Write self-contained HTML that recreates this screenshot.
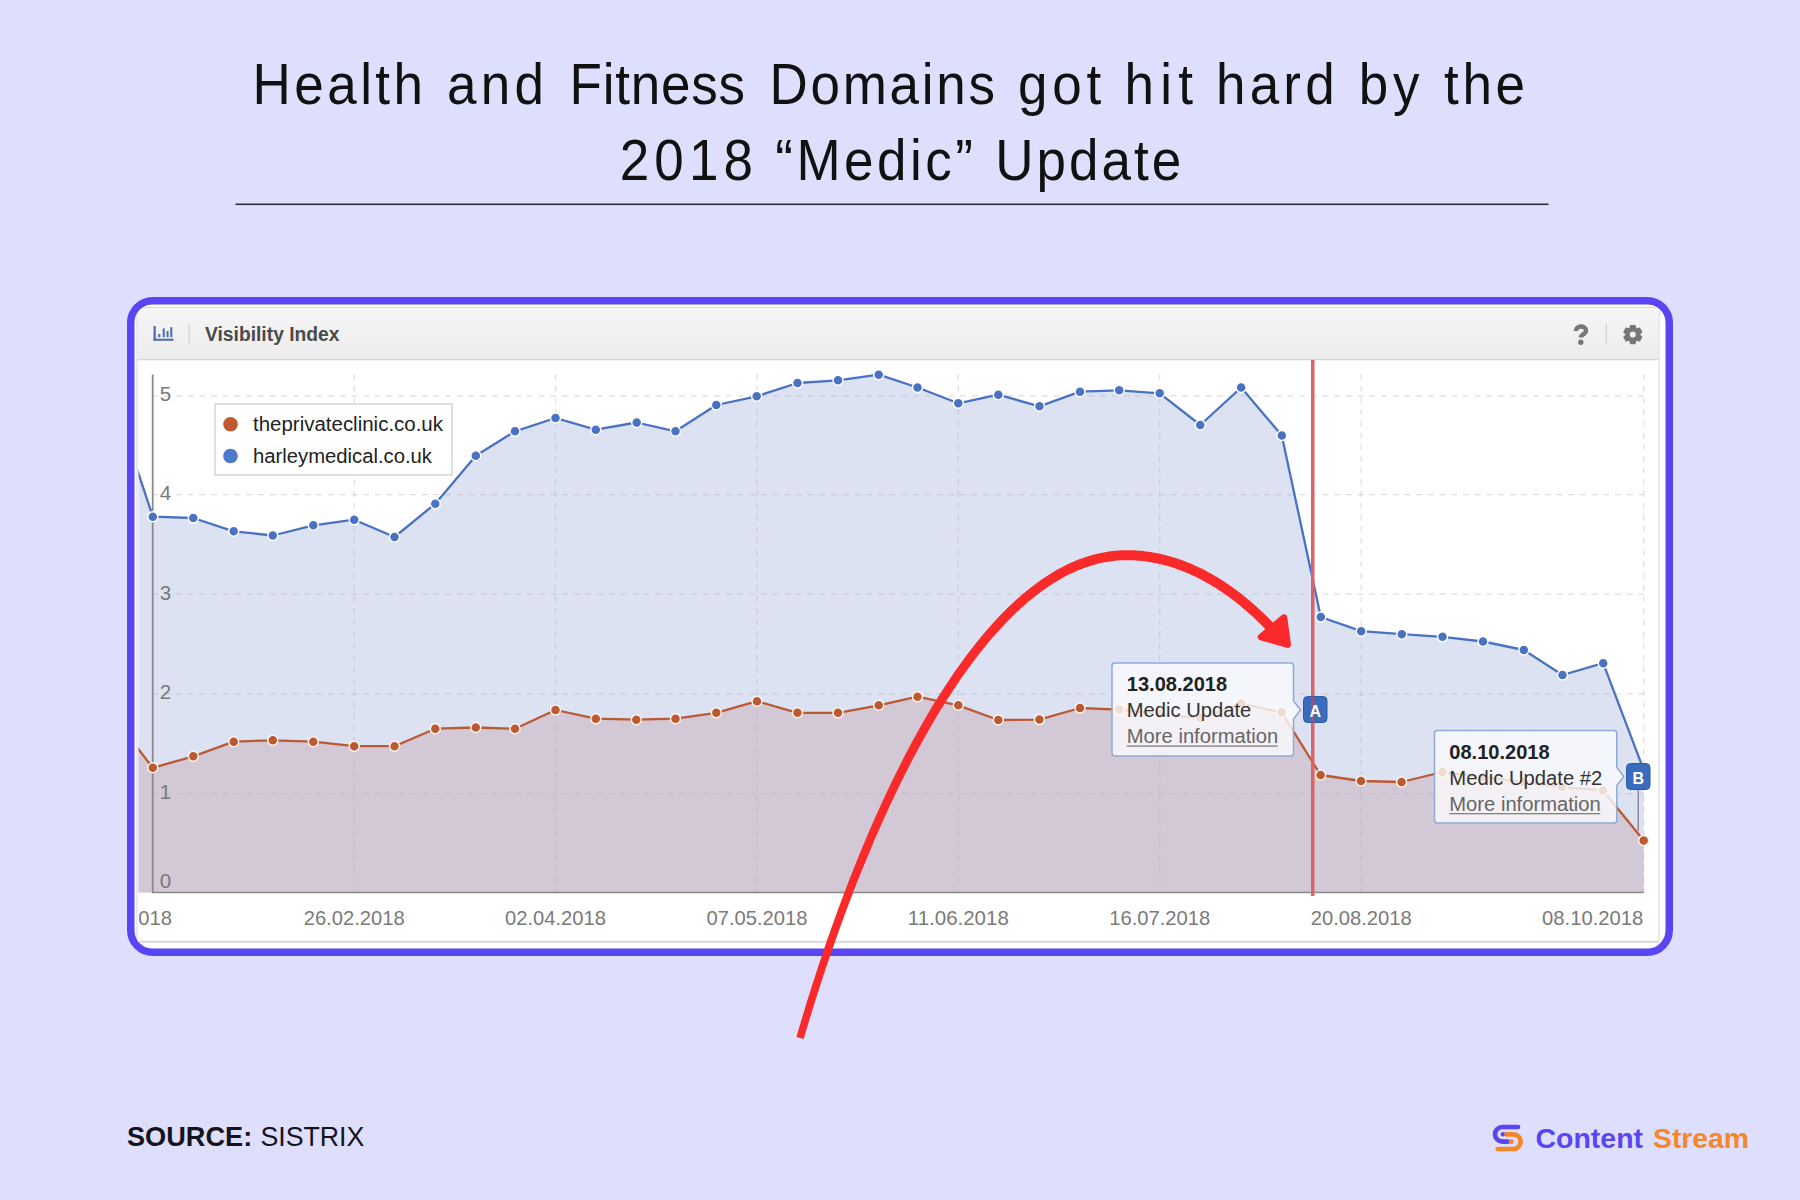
<!DOCTYPE html>
<html><head><meta charset="utf-8">
<style>
html,body{margin:0;padding:0;}
body{width:1800px;height:1200px;background:#dedffd;overflow:hidden;position:relative;font-family:"Liberation Sans",sans-serif;}
svg{position:absolute;left:0;top:0;}
</style></head><body>
<svg width="1800" height="1200" viewBox="0 0 1800 1200" font-family="Liberation Sans, sans-serif">
<defs>
<clipPath id="card"><rect x="134.5" y="304.5" width="1531" height="644.5" rx="18.5" ry="18.5"/></clipPath>
<clipPath id="plot"><rect x="138.5" y="360" width="1510" height="540"/></clipPath>
<linearGradient id="hdr" x1="0" y1="0" x2="0" y2="1"><stop offset="0" stop-color="#f6f6f6"/><stop offset="1" stop-color="#ececec"/></linearGradient>
</defs>
<g fill="#111" font-size="53">
<g transform="translate(0,104.4) scale(1,1.09)">
<text x="252.6" y="0" textLength="170.4" lengthAdjust="spacing">Health</text>
<text x="447.0" y="0" textLength="97.0" lengthAdjust="spacing">and</text>
<text x="569.5" y="0" textLength="175.5" lengthAdjust="spacing">Fitness</text>
<text x="769.5" y="0" textLength="225.5" lengthAdjust="spacing">Domains</text>
<text x="1018.0" y="0" textLength="83.3" lengthAdjust="spacing">got</text>
<text x="1124.5" y="0" textLength="68.5" lengthAdjust="spacing">hit</text>
<text x="1216.0" y="0" textLength="118.7" lengthAdjust="spacing">hard</text>
<text x="1358.7" y="0" textLength="60.7" lengthAdjust="spacing">by</text>
<text x="1444.0" y="0" textLength="81.0" lengthAdjust="spacing">the</text>
</g>
<g transform="translate(0,180) scale(1,1.09)">
<text x="619.7" y="0" textLength="133.3" lengthAdjust="spacing">2018</text>
<text x="775.3" y="0" textLength="197.7" lengthAdjust="spacing">“Medic”</text>
<text x="995.3" y="0" textLength="186.0" lengthAdjust="spacing">Update</text>
</g>
</g>
<rect x="235.5" y="203.5" width="1313" height="1.6" fill="#2a2a3a"/>
<rect x="130.75" y="300.75" width="1538.5" height="651.5" rx="22" ry="22" fill="#ffffff" stroke="#5a45f5" stroke-width="7.5"/>
<g clip-path="url(#card)">
<rect x="137" y="307.5" width="1522" height="635" fill="#ffffff" stroke="#dcdcdc" stroke-width="1.2"/>
<rect x="137.6" y="308" width="1520.8" height="51.5" fill="url(#hdr)"/>
<rect x="137.6" y="359" width="1520.8" height="1.3" fill="#d6d6d6"/>
<rect x="137.6" y="940.5" width="1520.8" height="2.5" fill="#dedede"/>
</g>
<g fill="#5070b2">
<rect x="153.5" y="326" width="2.3" height="14.8"/><rect x="153.5" y="338.7" width="20" height="2.1"/>
<rect x="158.2" y="334" width="2.1" height="3.2"/><rect x="162.7" y="328.5" width="2.1" height="8.7"/><rect x="166.5" y="331" width="2.1" height="6.2"/><rect x="170.2" y="327.2" width="2.1" height="10"/>
</g>
<rect x="188.5" y="324" width="1.2" height="21" fill="#d2d2d2"/>
<text x="205" y="341.2" font-size="19.5" font-weight="bold" fill="#4a4a4a" textLength="134.5" lengthAdjust="spacingAndGlyphs">Visibility Index</text>
<path d="M1575.9,331.0 C1575.7,325.2 1586.0,325.0 1586.0,330.7 C1586.0,334.2 1580.7,334.4 1580.7,337.6" fill="none" stroke="#777" stroke-width="4.4" stroke-linecap="butt"/><circle cx="1580.8" cy="342.2" r="2.7" fill="#777"/>
<rect x="1605.8" y="323" width="1.2" height="21" fill="#d2d2d2"/>
<path d="M1630.59,325.57 L1635.01,325.57 L1635.82,328.51 L1636.57,328.94 L1639.52,328.17 L1641.73,332.00 L1639.59,334.17 L1639.59,335.03 L1641.73,337.20 L1639.52,341.03 L1636.57,340.26 L1635.82,340.69 L1635.01,343.63 L1630.59,343.63 L1629.78,340.69 L1629.03,340.26 L1626.08,341.03 L1623.87,337.20 L1626.01,335.03 L1626.01,334.17 L1623.87,332.00 L1626.08,328.17 L1629.03,328.94 L1629.78,328.51Z M1636.3999999999999,334.6 A3.6,3.6 0 1,0 1629.2,334.6 A3.6,3.6 0 1,0 1636.3999999999999,334.6Z" fill="#777" stroke="#777" stroke-width="1.2" stroke-linejoin="round" fill-rule="evenodd"/>
<g clip-path="url(#plot)">
<path d="M112.5,395.0 L152.8,516.7 L193.3,518.0 L233.7,531.3 L272.8,535.5 L313.3,525.3 L354.2,519.7 L394.5,537.0 L435.3,503.7 L475.8,455.8 L515.0,431.3 L555.5,418.0 L595.8,429.7 L636.7,422.5 L675.5,431.3 L716.3,405.0 L756.7,396.3 L797.5,383.0 L838.0,380.3 L878.7,374.7 L917.5,387.5 L958.3,403.3 L998.3,394.7 L1039.5,406.3 L1080.0,391.7 L1119.2,390.3 L1159.7,393.3 L1200.3,425.0 L1241.2,387.5 L1281.8,435.5 L1320.8,617.0 L1361.2,631.2 L1401.8,634.2 L1442.5,636.8 L1483.0,641.5 L1523.8,650.0 L1562.5,675.0 L1603.2,663.2 L1643.7,770.0 L1643.7,892.5 L112.5,892.5 Z" fill="#dce2f2"/>
<path d="M112.5,715.4 L152.8,767.8 L193.3,756.3 L233.7,741.7 L272.8,740.3 L313.3,741.7 L354.2,746.2 L394.5,746.2 L435.3,728.7 L475.8,727.5 L515.0,728.7 L555.5,710.0 L595.8,718.7 L636.3,719.7 L675.5,718.7 L716.3,712.8 L757.0,701.2 L797.5,712.8 L838.0,712.8 L878.7,705.3 L917.5,696.7 L958.3,705.3 L998.3,720.0 L1039.4,719.6 L1080.0,708.0 L1119.4,709.6 L1159.7,713.8 L1200.3,718.2 L1241.2,703.6 L1281.6,712.4 L1320.6,775.0 L1361.0,781.0 L1401.6,782.0 L1442.4,772.0 L1483.0,777.0 L1523.8,782.0 L1562.0,787.0 L1603.0,790.4 L1643.7,840.4 L1643.7,892.5 L112.5,892.5 Z" fill="#d3c8d5"/>
<line x1="152.5" y1="395.8" x2="1643.7" y2="395.8" stroke="#a8a8b6" stroke-opacity="0.38" stroke-width="1.2" stroke-dasharray="6 5.7"/>
<line x1="152.5" y1="494.7" x2="1643.7" y2="494.7" stroke="#a8a8b6" stroke-opacity="0.38" stroke-width="1.2" stroke-dasharray="6 5.7"/>
<line x1="152.5" y1="594.2" x2="1643.7" y2="594.2" stroke="#a8a8b6" stroke-opacity="0.38" stroke-width="1.2" stroke-dasharray="6 5.7"/>
<line x1="152.5" y1="693.8" x2="1643.7" y2="693.8" stroke="#a8a8b6" stroke-opacity="0.38" stroke-width="1.2" stroke-dasharray="6 5.7"/>
<line x1="152.5" y1="793.6" x2="1643.7" y2="793.6" stroke="#a8a8b6" stroke-opacity="0.38" stroke-width="1.2" stroke-dasharray="6 5.7"/>
<line x1="354.2" y1="374" x2="354.2" y2="892.5" stroke="#a8a8b6" stroke-opacity="0.38" stroke-width="1.2" stroke-dasharray="6 5.7"/>
<line x1="555.5" y1="374" x2="555.5" y2="892.5" stroke="#a8a8b6" stroke-opacity="0.38" stroke-width="1.2" stroke-dasharray="6 5.7"/>
<line x1="757" y1="374" x2="757" y2="892.5" stroke="#a8a8b6" stroke-opacity="0.38" stroke-width="1.2" stroke-dasharray="6 5.7"/>
<line x1="958.3" y1="374" x2="958.3" y2="892.5" stroke="#a8a8b6" stroke-opacity="0.38" stroke-width="1.2" stroke-dasharray="6 5.7"/>
<line x1="1159.7" y1="374" x2="1159.7" y2="892.5" stroke="#a8a8b6" stroke-opacity="0.38" stroke-width="1.2" stroke-dasharray="6 5.7"/>
<line x1="1361.2" y1="374" x2="1361.2" y2="892.5" stroke="#a8a8b6" stroke-opacity="0.38" stroke-width="1.2" stroke-dasharray="6 5.7"/>
<line x1="1643.7" y1="374" x2="1643.7" y2="892.5" stroke="#a8a8b6" stroke-opacity="0.38" stroke-width="1.2" stroke-dasharray="6 5.7"/>
<line x1="152.7" y1="374.5" x2="152.7" y2="892.5" stroke="#8a8a8a" stroke-width="1.8"/>
<line x1="152" y1="892.5" x2="1643.7" y2="892.5" stroke="#8a8a8a" stroke-width="1.5"/>
<path d="M112.5,395.0 L152.8,516.7 L193.3,518.0 L233.7,531.3 L272.8,535.5 L313.3,525.3 L354.2,519.7 L394.5,537.0 L435.3,503.7 L475.8,455.8 L515.0,431.3 L555.5,418.0 L595.8,429.7 L636.7,422.5 L675.5,431.3 L716.3,405.0 L756.7,396.3 L797.5,383.0 L838.0,380.3 L878.7,374.7 L917.5,387.5 L958.3,403.3 L998.3,394.7 L1039.5,406.3 L1080.0,391.7 L1119.2,390.3 L1159.7,393.3 L1200.3,425.0 L1241.2,387.5 L1281.8,435.5 L1320.8,617.0 L1361.2,631.2 L1401.8,634.2 L1442.5,636.8 L1483.0,641.5 L1523.8,650.0 L1562.5,675.0 L1603.2,663.2 L1643.7,770.0" fill="none" stroke="#4a72c4" stroke-width="2.3" stroke-linejoin="round"/>
<path d="M112.5,715.4 L152.8,767.8 L193.3,756.3 L233.7,741.7 L272.8,740.3 L313.3,741.7 L354.2,746.2 L394.5,746.2 L435.3,728.7 L475.8,727.5 L515.0,728.7 L555.5,710.0 L595.8,718.7 L636.3,719.7 L675.5,718.7 L716.3,712.8 L757.0,701.2 L797.5,712.8 L838.0,712.8 L878.7,705.3 L917.5,696.7 L958.3,705.3 L998.3,720.0 L1039.4,719.6 L1080.0,708.0 L1119.4,709.6 L1159.7,713.8 L1200.3,718.2 L1241.2,703.6 L1281.6,712.4 L1320.6,775.0 L1361.0,781.0 L1401.6,782.0 L1442.4,772.0 L1483.0,777.0 L1523.8,782.0 L1562.0,787.0 L1603.0,790.4 L1643.7,840.4" fill="none" stroke="#bb5a32" stroke-width="2.3" stroke-linejoin="round"/>
<g fill="#4a72c4" stroke="#ffffff" stroke-width="1.5"><circle cx="152.8" cy="516.7" r="5"/><circle cx="193.3" cy="518.0" r="5"/><circle cx="233.7" cy="531.3" r="5"/><circle cx="272.8" cy="535.5" r="5"/><circle cx="313.3" cy="525.3" r="5"/><circle cx="354.2" cy="519.7" r="5"/><circle cx="394.5" cy="537.0" r="5"/><circle cx="435.3" cy="503.7" r="5"/><circle cx="475.8" cy="455.8" r="5"/><circle cx="515.0" cy="431.3" r="5"/><circle cx="555.5" cy="418.0" r="5"/><circle cx="595.8" cy="429.7" r="5"/><circle cx="636.7" cy="422.5" r="5"/><circle cx="675.5" cy="431.3" r="5"/><circle cx="716.3" cy="405.0" r="5"/><circle cx="756.7" cy="396.3" r="5"/><circle cx="797.5" cy="383.0" r="5"/><circle cx="838.0" cy="380.3" r="5"/><circle cx="878.7" cy="374.7" r="5"/><circle cx="917.5" cy="387.5" r="5"/><circle cx="958.3" cy="403.3" r="5"/><circle cx="998.3" cy="394.7" r="5"/><circle cx="1039.5" cy="406.3" r="5"/><circle cx="1080.0" cy="391.7" r="5"/><circle cx="1119.2" cy="390.3" r="5"/><circle cx="1159.7" cy="393.3" r="5"/><circle cx="1200.3" cy="425.0" r="5"/><circle cx="1241.2" cy="387.5" r="5"/><circle cx="1281.8" cy="435.5" r="5"/><circle cx="1320.8" cy="617.0" r="5"/><circle cx="1361.2" cy="631.2" r="5"/><circle cx="1401.8" cy="634.2" r="5"/><circle cx="1442.5" cy="636.8" r="5"/><circle cx="1483.0" cy="641.5" r="5"/><circle cx="1523.8" cy="650.0" r="5"/><circle cx="1562.5" cy="675.0" r="5"/><circle cx="1603.2" cy="663.2" r="5"/><circle cx="1643.7" cy="770.0" r="5"/></g>
<g fill="#bb5a32" stroke="#fff6ec" stroke-width="1.5"><circle cx="152.8" cy="767.8" r="5"/><circle cx="193.3" cy="756.3" r="5"/><circle cx="233.7" cy="741.7" r="5"/><circle cx="272.8" cy="740.3" r="5"/><circle cx="313.3" cy="741.7" r="5"/><circle cx="354.2" cy="746.2" r="5"/><circle cx="394.5" cy="746.2" r="5"/><circle cx="435.3" cy="728.7" r="5"/><circle cx="475.8" cy="727.5" r="5"/><circle cx="515.0" cy="728.7" r="5"/><circle cx="555.5" cy="710.0" r="5"/><circle cx="595.8" cy="718.7" r="5"/><circle cx="636.3" cy="719.7" r="5"/><circle cx="675.5" cy="718.7" r="5"/><circle cx="716.3" cy="712.8" r="5"/><circle cx="757.0" cy="701.2" r="5"/><circle cx="797.5" cy="712.8" r="5"/><circle cx="838.0" cy="712.8" r="5"/><circle cx="878.7" cy="705.3" r="5"/><circle cx="917.5" cy="696.7" r="5"/><circle cx="958.3" cy="705.3" r="5"/><circle cx="998.3" cy="720.0" r="5"/><circle cx="1039.4" cy="719.6" r="5"/><circle cx="1080.0" cy="708.0" r="5"/><circle cx="1119.4" cy="709.6" r="5"/><circle cx="1159.7" cy="713.8" r="5"/><circle cx="1200.3" cy="718.2" r="5"/><circle cx="1241.2" cy="703.6" r="5"/><circle cx="1281.6" cy="712.4" r="5"/><circle cx="1320.6" cy="775.0" r="5"/><circle cx="1361.0" cy="781.0" r="5"/><circle cx="1401.6" cy="782.0" r="5"/><circle cx="1442.4" cy="772.0" r="5"/><circle cx="1483.0" cy="777.0" r="5"/><circle cx="1523.8" cy="782.0" r="5"/><circle cx="1562.0" cy="787.0" r="5"/><circle cx="1603.0" cy="790.4" r="5"/><circle cx="1643.7" cy="840.4" r="5"/></g>
</g>
<text x="159.8" y="401.2" font-size="20.5" fill="#7a7a7a">5</text>
<text x="159.8" y="500.09999999999997" font-size="20.5" fill="#7a7a7a">4</text>
<text x="159.8" y="599.6" font-size="20.5" fill="#7a7a7a">3</text>
<text x="159.8" y="699.1999999999999" font-size="20.5" fill="#7a7a7a">2</text>
<text x="159.8" y="799.0" font-size="20.5" fill="#7a7a7a">1</text>
<text x="159.8" y="887.6" font-size="20.5" fill="#7a7a7a">0</text>
<g font-size="21" fill="#7a7a7a">
<svg x="138.5" y="890" width="200" height="50" overflow="hidden"><text x="-67.5" y="34.8" textLength="101" lengthAdjust="spacingAndGlyphs">22.01.2018</text></svg>
<text x="303.7" y="924.8" textLength="101" lengthAdjust="spacingAndGlyphs">26.02.2018</text>
<text x="505.0" y="924.8" textLength="101" lengthAdjust="spacingAndGlyphs">02.04.2018</text>
<text x="706.5" y="924.8" textLength="101" lengthAdjust="spacingAndGlyphs">07.05.2018</text>
<text x="907.8" y="924.8" textLength="101" lengthAdjust="spacingAndGlyphs">11.06.2018</text>
<text x="1109.2" y="924.8" textLength="101" lengthAdjust="spacingAndGlyphs">16.07.2018</text>
<text x="1310.7" y="924.8" textLength="101" lengthAdjust="spacingAndGlyphs">20.08.2018</text>
<text x="1542" y="924.8" textLength="101.3" lengthAdjust="spacingAndGlyphs">08.10.2018</text>
</g>
<rect x="215" y="404" width="237" height="71" fill="#ffffff" fill-opacity="0.9" stroke="#cccccc" stroke-width="1.2"/>
<circle cx="230.5" cy="424.3" r="7.3" fill="#c0582f"/>
<circle cx="230.5" cy="456" r="7.3" fill="#4f78cc"/>
<text x="253" y="431" font-size="19.5" fill="#222" textLength="190" lengthAdjust="spacingAndGlyphs">theprivateclinic.co.uk</text>
<text x="253" y="463" font-size="19.5" fill="#222" textLength="179" lengthAdjust="spacingAndGlyphs">harleymedical.co.uk</text>
<rect x="1311" y="360" width="3.5" height="536" fill="#d9646a"/>
<rect x="1637.5" y="789" width="1.5" height="42" fill="#8a8a9a"/>
<path d="M1115,663 L1290.5,663 Q1293.5,663 1293.5,666 L1293.5,701 L1300.5,710 L1293.5,719 L1293.5,753 Q1293.5,756 1290.5,756 L1115,756 Q1112,756 1112,753 L1112,666 Q1112,663 1115,663 Z" fill="#fbfbfd" fill-opacity="0.8" stroke="#8eaad6" stroke-width="1.5"/>
<text x="1126.8" y="691" font-size="19.5" font-weight="bold" fill="#222" textLength="100.3" lengthAdjust="spacingAndGlyphs">13.08.2018</text>
<text x="1126.8" y="717" font-size="19.5" fill="#333" textLength="124.5" lengthAdjust="spacingAndGlyphs">Medic Update</text>
<text x="1126.8" y="743.3" font-size="19.5" fill="#666" textLength="151.5" lengthAdjust="spacingAndGlyphs">More information</text>
<rect x="1126.8" y="745.5" width="151" height="1.2" fill="#777"/>
<path d="M1437.5,730.6 L1613.8,730.6 Q1616.8,730.6 1616.8,733.6 L1616.8,767.5 L1623.8,776.5 L1616.8,785.5 L1616.8,820 Q1616.8,823 1613.8,823 L1437.5,823 Q1434.5,823 1434.5,820 L1434.5,733.6 Q1434.5,730.6 1437.5,730.6 Z" fill="#fbfbfd" fill-opacity="0.8" stroke="#8eaad6" stroke-width="1.5"/>
<text x="1449.3" y="758.6" font-size="19.5" font-weight="bold" fill="#222" textLength="100.3" lengthAdjust="spacingAndGlyphs">08.10.2018</text>
<text x="1449.3" y="784.6" font-size="19.5" fill="#333" textLength="153" lengthAdjust="spacingAndGlyphs">Medic Update #2</text>
<text x="1449.3" y="810.9" font-size="19.5" fill="#666" textLength="151.5" lengthAdjust="spacingAndGlyphs">More information</text>
<rect x="1449.3" y="813.1" width="151" height="1.2" fill="#777"/>
<rect x="1303.5" y="696.5" width="23.5" height="26" rx="4" fill="#3a6cbd" stroke="#2d5aa5" stroke-width="1"/>
<rect x="1311" y="696.5" width="3.5" height="26" fill="#b8476a" fill-opacity="0.75"/>
<text x="1315.2" y="716.5" font-size="16" font-weight="bold" fill="#fff" text-anchor="middle">A</text>
<rect x="1626.5" y="763.5" width="23.5" height="26" rx="4" fill="#3a6cbd" stroke="#2d5aa5" stroke-width="1"/>
<text x="1638.3" y="783.5" font-size="16" font-weight="bold" fill="#fff" text-anchor="middle">B</text>
<path d="M803.60,1039.06 L806.23,1030.20 L808.90,1021.35 L811.61,1012.49 L814.38,1003.64 L817.18,994.78 L820.03,985.93 L822.92,977.10 L825.85,968.27 L828.83,959.46 L831.85,950.66 L834.91,941.89 L838.01,933.14 L841.16,924.42 L844.34,915.73 L847.57,907.07 L850.83,898.45 L854.14,889.87 L857.48,881.33 L860.87,872.83 L864.29,864.39 L867.76,855.99 L871.26,847.65 L874.80,839.37 L878.37,831.14 L881.99,822.98 L885.64,814.89 L889.33,806.87 L893.06,798.92 L896.82,791.04 L900.61,783.25 L904.45,775.53 L908.32,767.90 L912.22,760.36 L916.15,752.91 L920.13,745.55 L924.13,738.29 L928.17,731.13 L932.24,724.07 L936.34,717.12 L940.48,710.28 L944.64,703.55 L948.84,696.94 L953.07,690.44 L957.33,684.06 L961.62,677.81 L965.94,671.69 L970.29,665.70 L974.67,659.84 L979.07,654.12 L983.51,648.53 L987.97,643.09 L992.46,637.80 L996.97,632.65 L1001.51,627.66 L1006.08,622.82 L1010.67,618.14 L1015.28,613.61 L1019.92,609.26 L1024.57,605.07 L1029.26,601.04 L1033.96,597.19 L1038.68,593.52 L1043.43,590.02 L1048.19,586.71 L1052.97,583.57 L1057.77,580.63 L1062.59,577.87 L1067.42,575.30 L1072.28,572.92 L1077.14,570.74 L1082.03,568.76 L1086.93,566.98 L1091.84,565.40 L1096.77,564.03 L1101.72,562.86 L1106.68,561.90 L1111.66,561.15 L1116.65,560.62 L1121.67,560.30 L1126.76,560.20 L1128.96,560.22 L1131.21,560.27 L1133.45,560.36 L1135.68,560.48 L1137.90,560.64 L1140.10,560.83 L1142.30,561.05 L1144.49,561.30 L1146.67,561.59 L1148.83,561.91 L1150.99,562.25 L1153.14,562.63 L1155.27,563.04 L1157.39,563.48 L1159.51,563.95 L1161.61,564.45 L1163.70,564.97 L1165.78,565.52 L1167.85,566.10 L1169.91,566.71 L1171.96,567.34 L1174.00,568.00 L1176.02,568.69 L1178.04,569.40 L1180.04,570.13 L1182.03,570.89 L1184.01,571.67 L1185.98,572.48 L1187.94,573.31 L1189.88,574.16 L1191.82,575.03 L1193.74,575.92 L1195.65,576.83 L1197.55,577.77 L1199.43,578.72 L1201.31,579.70 L1203.17,580.69 L1205.02,581.70 L1206.85,582.73 L1208.68,583.77 L1210.49,584.84 L1212.29,585.92 L1214.07,587.01 L1215.85,588.12 L1217.61,589.25 L1219.35,590.39 L1221.09,591.55 L1222.81,592.72 L1224.51,593.90 L1226.21,595.09 L1227.89,596.30 L1229.55,597.52 L1231.21,598.75 L1232.85,599.99 L1234.47,601.24 L1236.08,602.50 L1237.68,603.77 L1239.26,605.05 L1240.83,606.34 L1242.38,607.63 L1243.92,608.93 L1245.45,610.24 L1246.96,611.56 L1248.46,612.88 L1249.94,614.20 L1251.40,615.53 L1252.86,616.87 L1254.29,618.21 L1255.71,619.55 L1257.12,620.89 L1258.51,622.24 L1259.89,623.59 L1261.25,624.94 L1262.59,626.29 L1263.92,627.64 L1265.23,629.00 L1266.53,630.35 L1267.81,631.70 L1269.08,633.05 L1270.34,634.40 L1277.66,627.60 L1276.39,626.22 L1275.08,624.83 L1273.76,623.44 L1272.43,622.05 L1271.07,620.66 L1269.70,619.26 L1268.31,617.87 L1266.91,616.47 L1265.49,615.08 L1264.05,613.69 L1262.60,612.30 L1261.13,610.91 L1259.65,609.53 L1258.15,608.15 L1256.63,606.77 L1255.10,605.40 L1253.55,604.04 L1251.99,602.67 L1250.41,601.32 L1248.81,599.97 L1247.20,598.63 L1245.57,597.29 L1243.93,595.97 L1242.27,594.65 L1240.60,593.34 L1238.91,592.04 L1237.21,590.75 L1235.49,589.47 L1233.76,588.20 L1232.01,586.95 L1230.24,585.70 L1228.46,584.47 L1226.67,583.25 L1224.86,582.05 L1223.04,580.85 L1221.20,579.68 L1219.34,578.52 L1217.48,577.37 L1215.59,576.24 L1213.70,575.13 L1211.79,574.03 L1209.86,572.95 L1207.92,571.89 L1205.96,570.85 L1204.00,569.82 L1202.01,568.82 L1200.02,567.84 L1198.01,566.88 L1195.98,565.94 L1193.94,565.02 L1191.89,564.12 L1189.82,563.24 L1187.74,562.39 L1185.65,561.57 L1183.54,560.77 L1181.42,559.99 L1179.29,559.24 L1177.14,558.51 L1174.98,557.81 L1172.80,557.14 L1170.62,556.49 L1168.42,555.88 L1166.20,555.29 L1163.98,554.73 L1161.74,554.20 L1159.49,553.70 L1157.22,553.24 L1154.95,552.80 L1152.66,552.39 L1150.36,552.02 L1148.04,551.68 L1145.72,551.38 L1143.38,551.11 L1141.03,550.87 L1138.67,550.67 L1136.30,550.50 L1133.92,550.37 L1131.52,550.28 L1129.12,550.22 L1126.64,550.20 L1121.23,550.33 L1115.79,550.70 L1110.37,551.30 L1104.98,552.13 L1099.62,553.19 L1094.29,554.47 L1088.99,555.97 L1083.72,557.69 L1078.49,559.62 L1073.29,561.75 L1068.12,564.09 L1062.98,566.63 L1057.88,569.37 L1052.81,572.30 L1047.77,575.42 L1042.77,578.73 L1037.81,582.22 L1032.87,585.88 L1027.97,589.73 L1023.11,593.74 L1018.27,597.93 L1013.47,602.28 L1008.71,606.80 L1003.98,611.47 L999.28,616.31 L994.61,621.30 L989.98,626.43 L985.38,631.72 L980.81,637.15 L976.28,642.73 L971.78,648.44 L967.32,654.29 L962.89,660.27 L958.49,666.38 L954.12,672.62 L949.80,678.98 L945.50,685.47 L941.24,692.07 L937.01,698.79 L932.82,705.62 L928.67,712.56 L924.55,719.61 L920.46,726.76 L916.41,734.01 L912.40,741.36 L908.42,748.80 L904.48,756.33 L900.57,763.96 L896.70,771.67 L892.87,779.46 L889.08,787.33 L885.32,795.28 L881.60,803.30 L877.92,811.39 L874.28,819.56 L870.67,827.78 L867.11,836.07 L863.58,844.42 L860.09,852.82 L856.64,861.28 L853.24,869.78 L849.87,878.34 L846.54,886.93 L843.25,895.57 L840.01,904.25 L836.80,912.96 L833.64,921.71 L830.52,930.48 L827.43,939.28 L824.40,948.10 L821.40,956.94 L818.45,965.80 L815.54,974.68 L812.67,983.56 L809.85,992.46 L807.07,1001.36 L804.34,1010.26 L801.65,1019.16 L799.00,1028.06 L796.40,1036.94Z" fill="#fa2a2a"/>
<path d="M1284,617.5 L1261,637 L1287.8,644.6 Z" fill="#fa2a2a" stroke="#fa2a2a" stroke-width="6.5" stroke-linejoin="round"/>
<text x="127" y="1145.8" font-size="28" font-weight="bold" fill="#14141e" textLength="125.2" lengthAdjust="spacingAndGlyphs">SOURCE:</text>
<text x="260.4" y="1145.8" font-size="28" fill="#14141e" textLength="104" lengthAdjust="spacingAndGlyphs">SISTRIX</text>
<path d="M1518,1127 L1502.3,1127 A7.3,7.3 0 0 0 1502.3,1141.6 L1508,1141.6" fill="none" stroke="#5a45f5" stroke-width="4.7" stroke-linecap="round"/>
<circle cx="1503" cy="1134.3" r="2.3" fill="#5a45f5"/>
<path d="M1506.5,1134.3 L1513.3,1134.3 A7.35,7.35 0 0 1 1513.3,1149 L1497.7,1149" fill="none" stroke="#f5862a" stroke-width="4.7" stroke-linecap="round"/>
<circle cx="1511.3" cy="1141.7" r="2.4" fill="#f5862a"/>
<text x="1535.5" y="1148.4" font-size="28" font-weight="bold" fill="#5a45f5" textLength="107.5" lengthAdjust="spacingAndGlyphs">Content</text>
<text x="1653" y="1148.4" font-size="28" font-weight="bold" fill="#f5862a" textLength="96" lengthAdjust="spacingAndGlyphs">Stream</text>
</svg>
</body></html>
